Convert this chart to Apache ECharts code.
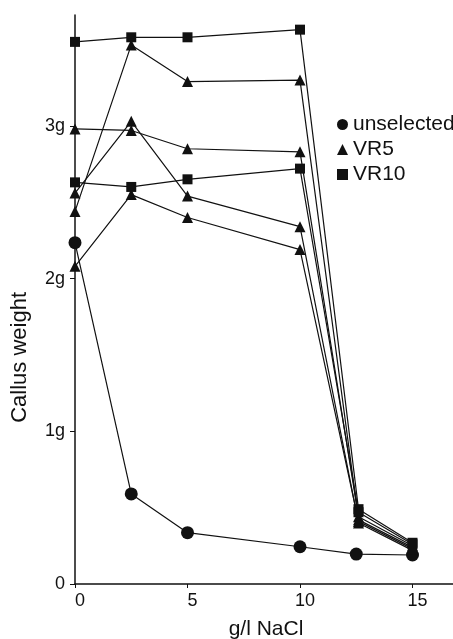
<!DOCTYPE html>
<html>
<head>
<meta charset="utf-8">
<script src="https://cdn.jsdelivr.net/npm/echarts@6/dist/echarts.min.js"></script>
<style>
html,body{margin:0;padding:0;background:#fff;}
#c{width:453px;height:639px;}
</style>
</head>
<body>
<div id="c"></div>
<script>
// NaCl concentrations (g/l)
const xsUnselected = [0, 2.5, 5, 10, 12.5, 15];
const xsVR = [0, 2.5, 5, 10, 12.6, 15];
// Callus weight (g)
const unselected = [2.235, 0.59, 0.336, 0.244, 0.196, 0.19];
const vr5a = [2.44, 3.53, 3.29, 3.30, 0.42, 0.24];
const vr5b = [2.98, 2.97, 2.85, 2.83, 0.44, 0.25];
const vr5c = [2.56, 3.03, 2.54, 2.34, 0.40, 0.22];
const vr5d = [2.08, 2.55, 2.40, 2.19, 0.41, 0.23];
const vr10a = [3.55, 3.58, 3.58, 3.63, 0.49, 0.27];
const vr10b = [2.63, 2.60, 2.65, 2.72, 0.47, 0.26];
const xTicks = [0, 5, 10, 15];
const yTicks = [0, 1, 2, 3];
const yTickLabels = ['0', '1g', '2g', '3g'];

const pair = (xs, ys) => xs.map((x, i) => [x, ys[i]]);
const font = 'Liberation Sans, Arial, sans-serif';
const ink = '#111';

function mk(name, symbol, size, xs, ys) {
  return {
    name: name, type: 'line', data: pair(xs, ys),
    symbol: symbol, symbolSize: size, showAllSymbol: true,
    lineStyle: {color: ink, width: 1.2},
    itemStyle: {color: ink},
    emphasis: {disabled: true},
    animation: false
  };
}

const chart = echarts.init(document.getElementById('c'), null, {renderer: 'canvas'});
chart.setOption({
  backgroundColor: '#fff',
  animation: false,
  grid: {left: 75, right: 0, top: 15, bottom: 55, containLabel: false, outerBoundsMode: 'none'},
  graphic: [{
    type: 'text', left: 9, top: 292, rotation: Math.PI / 2,
    style: {text: 'Callus weight', fontFamily: font, fontSize: 22, fill: ink},
    silent: true
  }],
  xAxis: {
    type: 'value', min: 0, max: 16.8, interval: 5,
    name: 'g/l NaCl', nameLocation: 'middle', nameGap: 35,
    nameTextStyle: {fontFamily: font, fontSize: 21, color: ink, padding: [0, 0, 0, 4]},
    axisLine: {show: true, onZero: false, lineStyle: {color: ink, width: 1.5}},
    axisTick: {show: true, length: 4, lineStyle: {color: ink}, customValues: xTicks},
    axisLabel: {fontFamily: font, fontSize: 18, color: ink, margin: 8, padding: [0, 0, 0, 10], customValues: xTicks},
    splitLine: {show: false}
  },
  yAxis: {
    type: 'value', min: 0, max: 3.726, interval: 1,
    axisLine: {show: true, lineStyle: {color: ink, width: 1.5}},
    axisTick: {show: true, length: 5, lineStyle: {color: ink}, customValues: yTicks},
    axisLabel: {fontFamily: font, fontSize: 18, color: ink, margin: 10, customValues: yTicks,
      formatter: function (v) { const i = yTicks.indexOf(v); return i >= 0 ? yTickLabels[i] : ''; }},
    splitLine: {show: false}
  },
  legend: {
    orient: 'vertical', left: 332, top: 109, itemGap: 4,
    itemWidth: 11, itemHeight: 11, selectedMode: false,
    textStyle: {fontFamily: font, fontSize: 21, color: ink},
    data: [
      {name: 'unselected', icon: 'circle'},
      {name: 'VR5', icon: 'triangle'},
      {name: 'VR10', icon: 'rect'}
    ]
  },
  series: [
    mk('unselected', 'circle', 13, xsUnselected, unselected),
    mk('VR5', 'triangle', 11, xsVR, vr5a),
    mk('VR5', 'triangle', 11, xsVR, vr5b),
    mk('VR5', 'triangle', 11, xsVR, vr5c),
    mk('VR5', 'triangle', 11, xsVR, vr5d),
    mk('VR10', 'rect', 10, xsVR, vr10a),
    mk('VR10', 'rect', 10, xsVR, vr10b)
  ]
});
</script>
</body>
</html>
